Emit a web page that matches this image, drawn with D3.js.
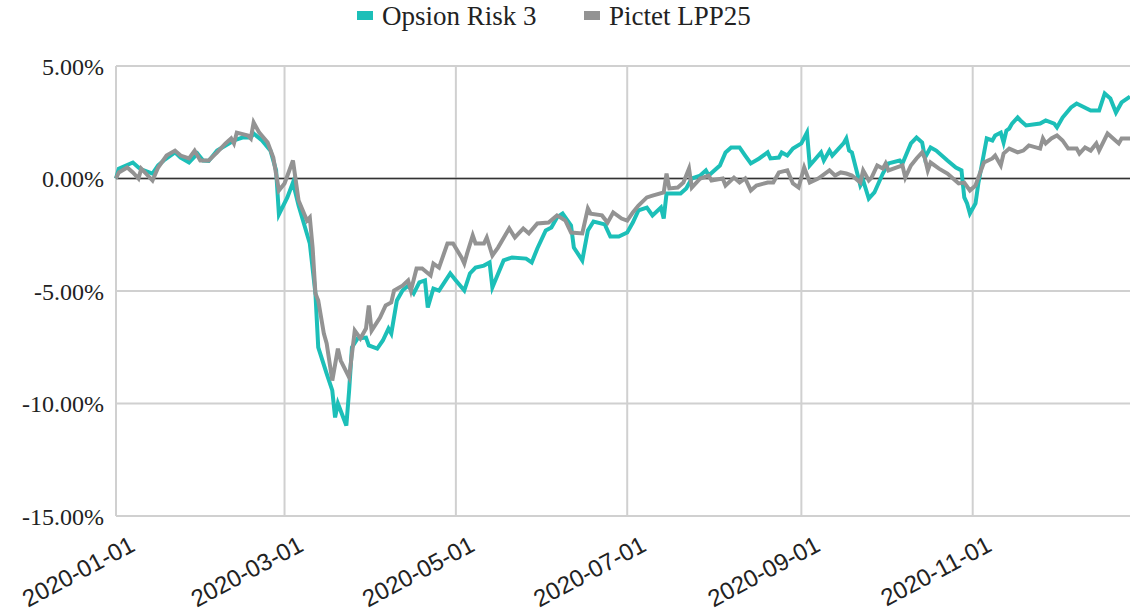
<!DOCTYPE html>
<html lang="en">
<head>
<meta charset="UTF-8">
<script src="https://d3js.org/d3.v7.min.js"></script>
<title>Opsion Risk 3 vs Pictet LPP25</title>
<style>
    body { margin: 0; background: #fff; }
    .legend text { font-family: "Liberation Serif", "Times New Roman", serif; font-size: 27px; fill: #222; }
    .y-axis text { font-family: "Liberation Serif", "Times New Roman", serif; font-size: 24px; fill: #222; }
    .x-axis text { font-family: "Liberation Sans", Arial, sans-serif; font-size: 24px; fill: #222; }
    .grid line { stroke: #d0d0d0; stroke-width: 2px; }
</style>
</head>
<body>
<div id="chart"></div>
<script>
    // series names / colours
    const seriesNames = ["Opsion Risk 3", "Pictet LPP25"];
    const seriesColors = ["#1cbfb8", "#939393"];

    // cumulative return (%)
    const opsionDates = ["2020-01-01","2020-01-02","2020-01-07","2020-01-09","2020-01-10","2020-01-14","2020-01-16","2020-01-18","2020-01-22","2020-01-24","2020-01-27","2020-01-30","2020-02-01","2020-02-03","2020-02-06","2020-02-09","2020-02-12","2020-02-15","2020-02-18","2020-02-19","2020-02-22","2020-02-25","2020-02-27","2020-02-28","2020-03-02","2020-03-04","2020-03-06","2020-03-10","2020-03-12","2020-03-13","2020-03-16","2020-03-18","2020-03-19","2020-03-20","2020-03-23","2020-03-24","2020-03-25","2020-03-27","2020-03-30","2020-03-31","2020-04-03","2020-04-05","2020-04-07","2020-04-08","2020-04-10","2020-04-12","2020-04-14","2020-04-16","2020-04-18","2020-04-20","2020-04-21","2020-04-23","2020-04-25","2020-04-29","2020-05-01","2020-05-04","2020-05-06","2020-05-08","2020-05-11","2020-05-13","2020-05-14","2020-05-18","2020-05-21","2020-05-26","2020-05-28","2020-05-30","2020-06-02","2020-06-04","2020-06-06","2020-06-08","2020-06-11","2020-06-12","2020-06-15","2020-06-17","2020-06-19","2020-06-23","2020-06-25","2020-06-28","2020-07-01","2020-07-03","2020-07-05","2020-07-08","2020-07-10","2020-07-13","2020-07-14","2020-07-15","2020-07-20","2020-07-22","2020-07-24","2020-07-27","2020-07-29","2020-07-30","2020-08-03","2020-08-05","2020-08-07","2020-08-10","2020-08-12","2020-08-14","2020-08-17","2020-08-20","2020-08-21","2020-08-24","2020-08-25","2020-08-27","2020-08-29","2020-09-01","2020-09-03","2020-09-04","2020-09-08","2020-09-09","2020-09-11","2020-09-12","2020-09-16","2020-09-17","2020-09-18","2020-09-19","2020-09-22","2020-09-23","2020-09-25","2020-09-27","2020-09-30","2020-10-02","2020-10-06","2020-10-07","2020-10-10","2020-10-12","2020-10-14","2020-10-15","2020-10-17","2020-10-19","2020-10-23","2020-10-26","2020-10-28","2020-10-29","2020-10-30","2020-10-31","2020-11-02","2020-11-03","2020-11-06","2020-11-08","2020-11-09","2020-11-11","2020-11-12","2020-11-13","2020-11-14","2020-11-15","2020-11-17","2020-11-18","2020-11-20","2020-11-25","2020-11-27","2020-11-30","2020-12-01","2020-12-03","2020-12-06","2020-12-08","2020-12-13","2020-12-16","2020-12-18","2020-12-20","2020-12-22","2020-12-24","2020-12-27"];
    const opsionValues = [0,0.44,0.71,0.49,0.40,0.22,0.58,0.80,1.16,0.93,0.71,1.11,0.80,0.78,1.24,1.47,1.69,1.82,1.82,2.00,1.69,1.24,0.36,-1.60,-0.84,-0.18,-1.20,-2.89,-5.11,-7.51,-8.67,-9.42,-10.62,-10.00,-10.98,-9.42,-7.51,-7.11,-7.07,-7.42,-7.56,-7.20,-6.67,-6.89,-5.42,-4.98,-4.76,-5.11,-4.62,-4.53,-5.73,-4.89,-4.98,-4.22,-4.53,-4.98,-4.22,-3.96,-3.87,-3.73,-4.84,-3.64,-3.51,-3.56,-3.73,-3.11,-2.31,-2.18,-1.73,-1.56,-2.09,-3.07,-3.64,-2.31,-1.91,-2.04,-2.58,-2.58,-2.40,-1.96,-1.42,-1.29,-1.64,-1.29,-1.78,-0.67,-0.67,-0.44,0.00,0.13,0.36,0.13,0.58,1.16,1.38,1.38,1.02,0.67,0.89,1.16,0.89,0.93,1.16,1.02,1.33,1.56,2.04,0.58,1.16,0.80,1.24,1.02,1.56,1.78,1.24,1.16,-0.31,-0.09,-0.89,-0.62,0.22,0.67,0.80,0.67,1.56,1.82,1.60,0.93,1.38,1.24,0.80,0.49,0.36,-0.84,-1.11,-1.56,-1.11,-0.22,1.78,1.69,1.91,2.04,1.60,2.13,2.22,2.44,2.71,2.58,2.36,2.44,2.58,2.44,2.27,2.71,3.16,3.33,3.02,3.02,3.78,3.56,2.93,3.38,3.64];

    const pictetDates = ["2020-01-01","2020-01-02","2020-01-05","2020-01-07","2020-01-09","2020-01-10","2020-01-14","2020-01-16","2020-01-19","2020-01-22","2020-01-24","2020-01-27","2020-01-29","2020-01-31","2020-02-03","2020-02-06","2020-02-09","2020-02-11","2020-02-12","2020-02-13","2020-02-17","2020-02-18","2020-02-19","2020-02-21","2020-02-24","2020-02-26","2020-02-28","2020-03-01","2020-03-04","2020-03-06","2020-03-09","2020-03-10","2020-03-11","2020-03-12","2020-03-13","2020-03-15","2020-03-16","2020-03-18","2020-03-20","2020-03-21","2020-03-24","2020-03-26","2020-03-28","2020-03-30","2020-03-31","2020-04-01","2020-04-04","2020-04-06","2020-04-08","2020-04-09","2020-04-12","2020-04-14","2020-04-15","2020-04-17","2020-04-19","2020-04-22","2020-04-23","2020-04-25","2020-04-28","2020-04-30","2020-05-03","2020-05-04","2020-05-05","2020-05-07","2020-05-08","2020-05-11","2020-05-12","2020-05-14","2020-05-16","2020-05-20","2020-05-22","2020-05-25","2020-05-27","2020-05-30","2020-06-03","2020-06-06","2020-06-09","2020-06-11","2020-06-15","2020-06-17","2020-06-18","2020-06-22","2020-06-24","2020-06-26","2020-06-29","2020-07-01","2020-07-03","2020-07-05","2020-07-08","2020-07-10","2020-07-14","2020-07-15","2020-07-16","2020-07-19","2020-07-21","2020-07-23","2020-07-24","2020-07-27","2020-07-30","2020-07-31","2020-08-04","2020-08-05","2020-08-08","2020-08-10","2020-08-12","2020-08-14","2020-08-16","2020-08-20","2020-08-22","2020-08-24","2020-08-27","2020-08-29","2020-08-31","2020-09-02","2020-09-04","2020-09-07","2020-09-11","2020-09-13","2020-09-15","2020-09-17","2020-09-19","2020-09-22","2020-09-23","2020-09-25","2020-09-26","2020-09-28","2020-09-30","2020-10-01","2020-10-02","2020-10-05","2020-10-07","2020-10-08","2020-10-10","2020-10-12","2020-10-14","2020-10-15","2020-10-16","2020-10-17","2020-10-20","2020-10-23","2020-10-25","2020-10-27","2020-10-29","2020-10-31","2020-11-02","2020-11-03","2020-11-05","2020-11-08","2020-11-09","2020-11-11","2020-11-12","2020-11-14","2020-11-17","2020-11-19","2020-11-21","2020-11-25","2020-11-26","2020-11-27","2020-11-29","2020-12-01","2020-12-03","2020-12-05","2020-12-08","2020-12-09","2020-12-11","2020-12-13","2020-12-15","2020-12-16","2020-12-19","2020-12-21","2020-12-23","2020-12-24","2020-12-27"];
    const pictetValues = [0,0.27,0.49,0.27,0,0.44,-0.09,0.49,1.02,1.24,1.02,0.89,1.24,0.80,0.80,1.16,1.56,1.78,1.56,2.04,1.91,1.78,2.49,2.04,1.60,0.93,-0.53,-0.22,0.80,-0.98,-1.87,-1.73,-3.07,-5.11,-5.42,-6.89,-7.33,-8.98,-7.56,-8.09,-8.84,-6.76,-7.11,-6.67,-5.64,-6.76,-6.18,-5.64,-5.51,-4.98,-4.76,-4.53,-4.98,-4.00,-4.00,-4.31,-3.78,-3.96,-2.89,-2.89,-3.51,-3.78,-3.33,-2.53,-2.89,-2.89,-2.62,-3.42,-3.07,-2.22,-2.62,-2.22,-2.44,-2.00,-1.96,-1.64,-1.87,-2.40,-2.44,-1.33,-1.56,-1.64,-1.96,-1.51,-1.78,-1.87,-1.51,-1.20,-0.84,-0.76,-0.62,0.22,-0.44,-0.40,-0.18,0.44,-0.40,0.00,0.13,-0.09,0.00,-0.31,0.04,-0.18,0.00,-0.53,-0.31,-0.18,-0.18,0.27,0.36,-0.22,-0.40,0.49,-0.18,0.00,0.36,0.13,0.27,0.22,0.13,-0.18,0.36,-0.09,0.04,0.58,0.44,0.67,0.36,0.49,0.58,0.04,0.58,0.89,1.16,0.89,0.36,0.71,0.44,0.22,0.00,-0.22,-0.18,-0.53,-0.31,0.04,0.71,0.89,1.02,0.58,1.11,1.33,1.16,1.24,1.47,1.33,1.78,1.56,1.78,1.91,1.69,1.33,1.33,1.11,1.38,1.24,1.56,1.24,2.00,1.78,1.56,1.78,1.78];

    const yTicks = [5, 0, -5, -10, -15];
    const xTickLabels = ["2020-01-01", "2020-03-01", "2020-05-01", "2020-07-01", "2020-09-01", "2020-11-01"];

    /*------------------- layout --------------------*/
    const width = 1130, height = 613;
    const margin = { top: 66, right: 0, bottom: 97, left: 116 };
    const parse = d3.timeParse("%Y-%m-%d");

    const svg = d3.select("#chart").append("svg")
        .attr("width", width)
        .attr("height", height);

    const x = d3.scaleTime()
        .domain([parse("2020-01-01"), parse("2020-12-27")])
        .range([margin.left, width - margin.right]);

    const y = d3.scaleLinear()
        .domain([-15, 5])
        .range([height - margin.bottom, margin.top]);

    // grid
    const grid = svg.append("g").attr("class", "grid");
    grid.selectAll(".h")
        .data(yTicks)
        .enter().append("line")
        .attr("x1", margin.left).attr("x2", width)
        .attr("y1", d => y(d)).attr("y2", d => y(d));
    grid.selectAll(".v")
        .data(xTickLabels)
        .enter().append("line")
        .attr("x1", d => x(parse(d))).attr("x2", d => x(parse(d)))
        .attr("y1", y(5)).attr("y2", y(-15));

    // y axis labels
    const yAxis = svg.append("g")
        .attr("class", "y-axis")
        .attr("transform", `translate(${margin.left - 12},0)`)
        .call(d3.axisLeft(y).tickValues(yTicks).tickSize(0).tickFormat(d => d.toFixed(2) + "%"));
    yAxis.select(".domain").remove();
    yAxis.selectAll("text").attr("dy", "0.35em").attr("x", 0);

    // x axis labels, rotated
    const xAxis = svg.append("g")
        .attr("class", "x-axis")
        .attr("transform", `translate(0,${height - margin.bottom})`)
        .call(d3.axisBottom(x).tickValues(xTickLabels.map(parse)).tickSize(0).tickFormat(d3.timeFormat("%Y-%m-%d")));
    xAxis.select(".domain").remove();
    xAxis.selectAll("text")
        .attr("text-anchor", "end")
        .attr("dy", 0)
        .attr("y", 0)
        .attr("transform", "translate(20,34) rotate(-28)");

    // zero line
    svg.append("line")
        .attr("x1", margin.left).attr("x2", width)
        .attr("y1", y(0)).attr("y2", y(0))
        .attr("stroke", "#333")
        .attr("stroke-width", 1.5);

    // lines
    const line = d3.line()
        .x(d => x(d.date))
        .y(d => y(d.value));

    const series = [
        opsionDates.map((d, i) => ({ date: parse(d), value: opsionValues[i] })),
        pictetDates.map((d, i) => ({ date: parse(d), value: pictetValues[i] }))
    ];

    svg.selectAll(".series")
        .data(series)
        .enter().append("path")
        .attr("class", "series")
        .attr("fill", "none")
        .attr("stroke", (d, i) => seriesColors[i])
        .attr("stroke-width", 4)
        .attr("stroke-linejoin", "miter")
        .attr("d", line);

    // legend
    const legend = svg.append("g").attr("class", "legend");
    const legendX = [357, 584];
    seriesNames.forEach((name, i) => {
        legend.append("rect")
            .attr("x", legendX[i]).attr("y", 11)
            .attr("width", 16).attr("height", 9)
            .attr("fill", seriesColors[i]);
        legend.append("text")
            .attr("x", legendX[i] + 25).attr("y", 25)
            .text(name);
    });
</script>
</body>
</html>
